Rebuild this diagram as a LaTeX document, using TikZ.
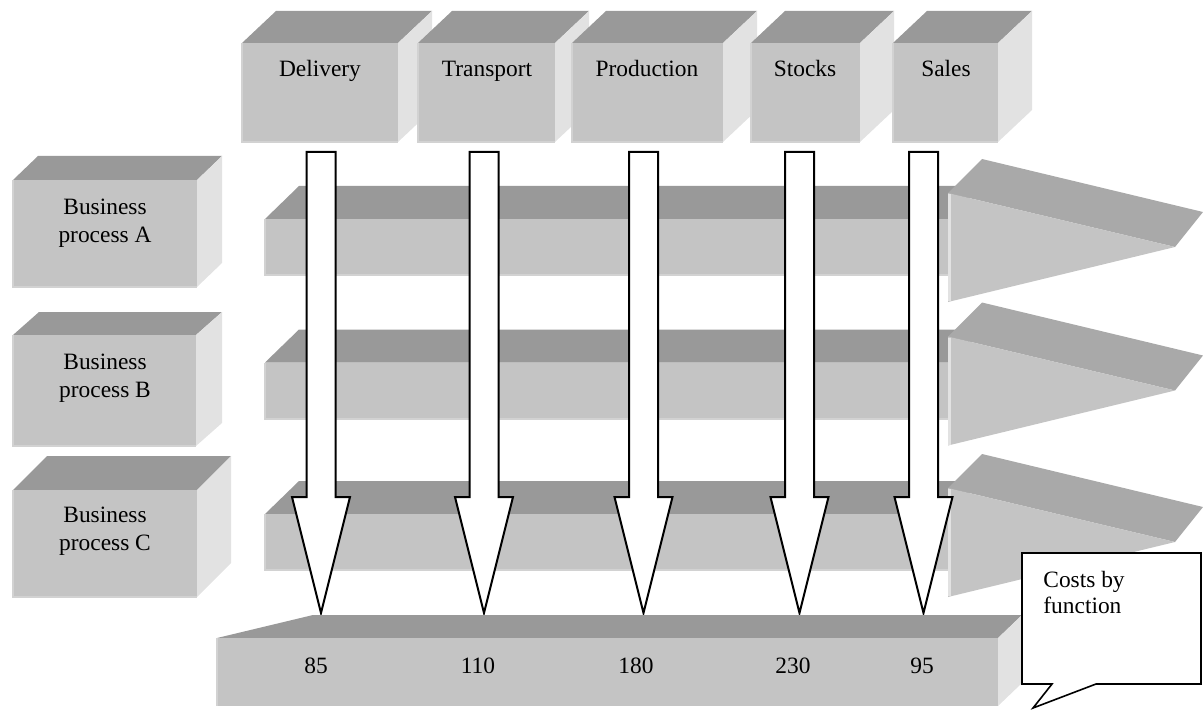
\documentclass[tikz,border=0pt]{standalone}
\usepackage{fontspec}
\setmainfont{Liberation Serif}
\usepackage{tikz}

\definecolor{frontgray}{HTML}{C4C4C4}
\definecolor{topgray}{HTML}{999999}
\definecolor{headgray}{HTML}{A9A9A9}
\definecolor{sidegray}{HTML}{E2E2E2}
\definecolor{edgegray}{HTML}{D2D2D2}

% 3D box: left, top, right, bottom, dx, dy
\newcommand{\solidbox}[6]{%
  \fill[topgray] (#1,#2) -- ++(#5,#6) -- ({#3+#5},{#2+#6}) -- (#3,#2) -- cycle;
  \fill[sidegray] (#3,#2) -- ({#3+#5},{#2+#6}) -- ({#3+#5},{#4+#6}) -- (#3,#4) -- cycle;
  \fill[frontgray] (#1,#2) rectangle (#3,#4);
  \draw[edgegray, line width=1pt] (#1,#2) -- (#1,#4) -- (#3,#4);
}
% process arrow around the middle line y
\newcommand{\procarrow}[1]{%
  \fill[topgray] (265,{#1-28}) -- (299,{#1-61}) -- (982,{#1-61}) -- (948,{#1-28}) -- cycle;
  \fill[frontgray] (265,{#1-28}) rectangle (948,{#1+28});
  \draw[edgegray, line width=1pt] (265,{#1-28}) -- (265,{#1+28}) -- (948,{#1+28});
  \fill[headgray] (948,{#1-54}) -- (982,{#1-88}) -- (1203,{#1-35}) -- (1175,#1) -- cycle;
  \fill[frontgray] (948,{#1-54}) -- (1175,#1) -- (948,{#1+55}) -- cycle;
  \draw[sidegray, line width=1.5pt] (949,{#1-53}) -- (949,{#1+54});
}
% white arrow down from a function
\newcommand{\fnarrow}[1]{%
  \draw[black, fill=white, line width=1pt] ({#1-14.5},152) -- ({#1+14.5},152) -- ({#1+14.5},497)
    -- ({#1+29},497) -- (#1,613) -- ({#1-29},497) -- ({#1-14.5},497) -- cycle;
}

\begin{document}
\begin{tikzpicture}[x=0.5pt, y=-0.5pt, font=\fontsize{11.7}{14}\selectfont,
    label/.style={anchor=base, inner sep=0pt}]
        \useasboundingbox (0,0) rectangle (1203,711);

        % Process arrows
        \procarrow{247}
        \procarrow{390.5}
        \procarrow{542}

        % Business processes
        \solidbox{13}{180}{197}{287}{25}{-24}
        \solidbox{13}{335}{196}{446}{26}{-23}
        \solidbox{13}{490}{197}{597}{34}{-34}
        \node[align=center] (pa) at (105,223) {Business\\process A};
        \node[align=center] (pb) at (105,378) {Business\\process B};
        \node[align=center] (pc) at (105,531) {Business\\process C};

        % Functions
        \solidbox{242}{43}{398}{142}{34}{-32}
        \solidbox{418}{43}{555}{142}{34}{-32}
        \solidbox{572}{43}{723}{142}{34}{-32}
        \solidbox{751}{43}{860}{142}{34}{-32}
        \solidbox{893}{43}{998}{142}{34}{-32}
        \node[label] (dl) at (320,77) {Delivery};
        \node[label] (tr) at (487,77) {Transport};
        \node[label] (pr) at (647,77) {Production};
        \node[label] (st) at (805,77) {Stocks};
        \node[label] (sa) at (946,77) {Sales};

        % Arrows down
        \fnarrow{321}
        \fnarrow{484}
        \fnarrow{643.5}
        \fnarrow{799.5}
        \fnarrow{923.5}

        % Costs bar
        \fill[topgray] (217,638) -- (313,615) -- (1022,615) -- (998,638) -- cycle;
        \fill[sidegray] (998,638) -- (1022,615) -- (1022,683) -- (998,706) -- cycle;
        \fill[frontgray] (217,638) rectangle (998,706);
        \draw[edgegray, line width=1pt] (217,638) -- (217,706);
        \node[label] (c1) at (316,673) {85};
        \node[label] (c2) at (478,673) {110};
        \node[label] (c3) at (636,673) {180};
        \node[label] (c4) at (793,673) {230};
        \node[label] (c5) at (922,673) {95};

        % Callout
        \draw[black, fill=white, line width=0.8pt] (1022,553) -- (1201,553) -- (1201,684) -- (1096,684)
            -- (1033,708) -- (1052,684) -- (1022,684) -- cycle;
        \node[anchor=north west, align=left, inner sep=0pt, font=\fontsize{11.7}{13}\selectfont]
            (cf) at (1043,571) {Costs by\\function};
\end{tikzpicture}
\end{document}
